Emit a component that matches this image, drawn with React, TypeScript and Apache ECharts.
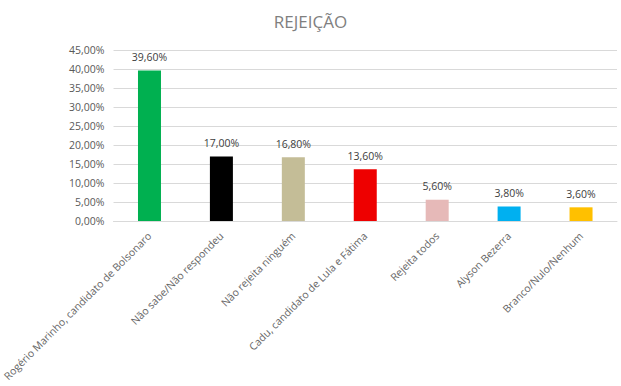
import React, { useEffect, useRef } from "react";
import * as echarts from "echarts";

const categories = [
  "Rogério Marinho, candidato de Bolsonaro",
  "Não sabe/Não respondeu",
  "Não rejeita ninguém",
  "Cadu, candidato de Lula e Fátima",
  "Rejeita todos",
  "Alyson Bezerra",
  "Branco/Nulo/Nenhum",
];
const values = [39.6, 17.0, 16.8, 13.6, 5.6, 3.8, 3.6];
const barColors = ["#00B050", "#000000", "#C4BD97", "#EE0000", "#E6B9B8", "#00B0F0", "#FFC000"];

const fmt = (v: number) => v.toFixed(2).replace(".", ",") + "%";
const FONT = "'Open Sans', 'Noto Sans', sans-serif";

export default function App() {
  const ref = useRef<HTMLDivElement>(null);
  useEffect(() => {
    const chart = echarts.init(ref.current!, null, { renderer: "svg" });
    chart.setOption({
      animation: false,
      backgroundColor: "#FFFFFF",
      title: {
        text: "REJEIÇÃO",
        left: "center",
        top: 8,
        textStyle: { color: "#7F7F7F", fontSize: 17, fontWeight: "normal", fontFamily: FONT },
      },
      grid: { left: 106, right: 4, top: 50, bottom: 165, containLabel: false },
      xAxis: {
        type: "category",
        data: categories,
        axisLine: { lineStyle: { color: "#D9D9D9" } },
        axisTick: { show: false },
        axisLabel: {
          rotate: 45,
          interval: 0,
          color: "#666666",
          fontSize: 10.5,
          fontFamily: FONT,
          margin: 13,
        },
      },
      yAxis: {
        type: "value",
        min: 0,
        max: 45,
        interval: 5,
        axisLine: { show: false },
        axisTick: { show: false },
        splitLine: { lineStyle: { color: "#D9D9D9" } },
        axisLabel: {
          color: "#595959",
          fontSize: 10.5,
          fontFamily: FONT,
          margin: 9,
          formatter: (v: number) => fmt(v),
        },
      },
      series: [
        {
          type: "bar",
          data: values.map((v, i) => ({ value: v, itemStyle: { color: barColors[i] } })),
          barWidth: 23,
          label: {
            show: true,
            position: "top",
            distance: 8,
            color: "#404040",
            fontSize: 10.5,
            fontFamily: FONT,
            formatter: (p: any) => fmt(p.value),
          },
        },
      ],
    });
    return () => chart.dispose();
  }, []);
  return (
    <div
      ref={ref}
      style={{ position: "fixed", left: 0, top: 0, width: 621, height: 386 }}
    />
  );
}
